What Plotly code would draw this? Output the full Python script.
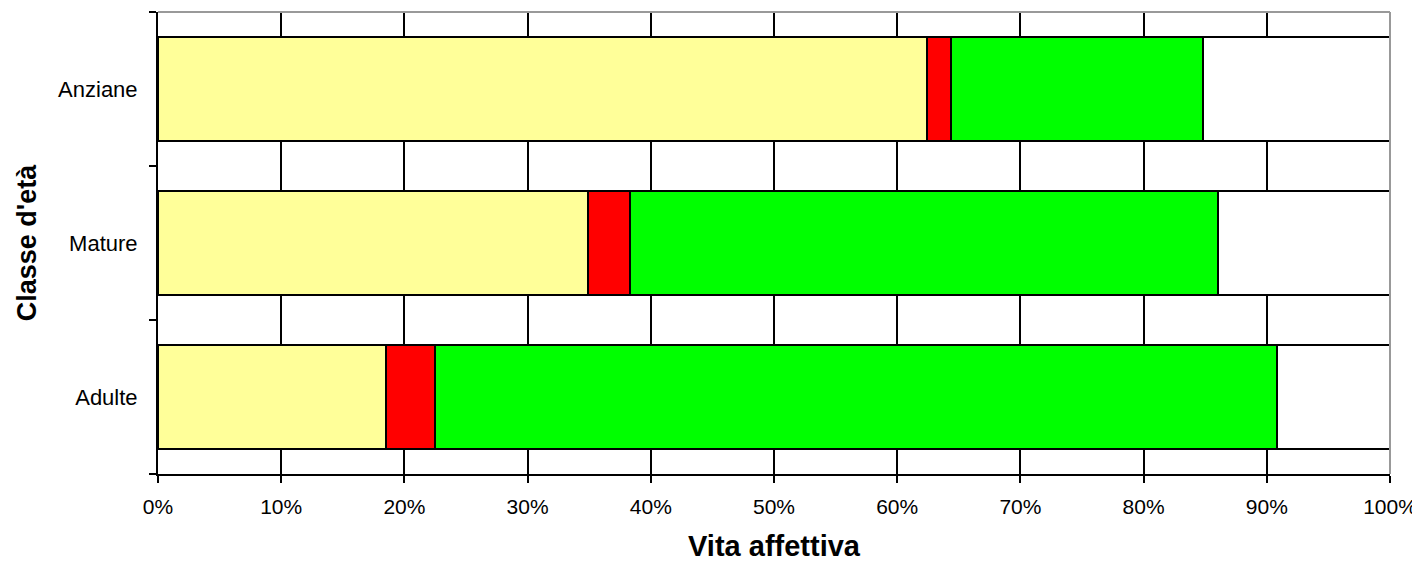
import plotly.graph_objects as go

categories = ["Adulte", "Mature", "Anziane"]
series_names = ["Serie 1", "Serie 2", "Serie 3", "Serie 4"]
yellow_vals = [18.5, 34.9, 62.4]
red_vals = [4.0, 3.4, 2.0]
green_vals = [68.3, 47.7, 20.4]
white_vals = [9.2, 14.0, 15.2]
x_ticks = [0, 10, 20, 30, 40, 50, 60, 70, 80, 90, 100]
x_tick_labels = [f"{v}%" for v in x_ticks]

colors = ["#FFFF99", "#FF0000", "#00FF00", "#FFFFFF"]
values = [yellow_vals, red_vals, green_vals, white_vals]

FONT = "Liberation Sans, Arial, sans-serif"

fig = go.Figure()
for name, vals, col in zip(series_names, values, colors):
    fig.add_trace(go.Bar(
        y=categories, x=vals, name=name, orientation="h",
        marker=dict(color=col, line=dict(color="black", width=2)),
        hoverinfo="x+y",
    ))

fig.update_layout(
    width=1412, height=554,
    barmode="stack", bargap=0.33,
    showlegend=False,
    plot_bgcolor="white", paper_bgcolor="white",
    margin=dict(l=150, r=30, t=4, b=88, autoexpand=False),
    font=dict(family=FONT, color="black", size=22),
    xaxis=dict(
        range=[0, 100], tickmode="array", tickvals=x_ticks, ticktext=x_tick_labels,
        showgrid=True, gridcolor="black", gridwidth=2,
        showline=True, linecolor="black", linewidth=2,
        ticks="outside", ticklen=7, tickwidth=2, tickcolor="black",
        ticklabelstandoff=6,
        tickfont=dict(size=21, family=FONT),
        zeroline=False, automargin=False,
        title=dict(text="<b>Vita affettiva</b>", font=dict(size=29, family=FONT), standoff=22),
        fixedrange=True,
    ),
    yaxis=dict(
        categoryorder="array", categoryarray=categories,
        range=[-0.5, 2.5],
        tickson="boundaries",
        showgrid=False,
        showline=True, linecolor="black", linewidth=2,
        ticks="outside", ticklen=7, tickwidth=2, tickcolor="black",
        ticklabelstandoff=14,
        tickfont=dict(size=22, family=FONT),
        automargin=False,
        title=dict(text="<b>Classe d'età</b>", font=dict(size=27, family=FONT), standoff=14),
        fixedrange=True,
    ),
    shapes=[
        dict(type="line", xref="paper", yref="paper", x0=0, x1=1, y0=1, y1=1,
             line=dict(color="#999999", width=2)),
        dict(type="line", xref="paper", yref="paper", x0=1, x1=1, y0=0, y1=1,
             line=dict(color="#999999", width=2)),
    ],
)

fig.write_html("out.html")
